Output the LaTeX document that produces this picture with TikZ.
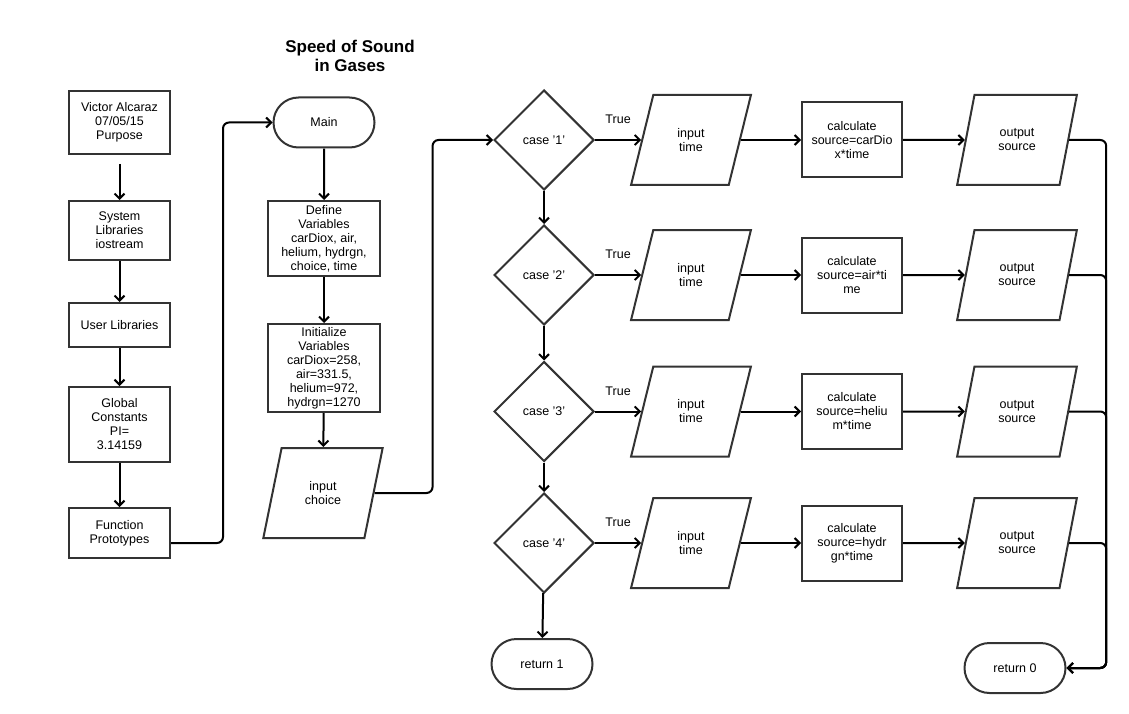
\documentclass[tikz,border=0pt]{standalone}
\usepackage{fontspec}
\setmainfont{Liberation Sans}
\usepackage{tikz}
\usetikzlibrary{shapes.geometric}
\usetikzlibrary{shapes.misc}
\usetikzlibrary{arrows.meta}
\tikzset{>={Straight Barb[length=5pt,width=10pt]}}
\usepackage{xcolor}
\colorlet{boxcol}{black!80}
\tikzstyle{base}=[draw=boxcol,line width=2pt,align=center,inner sep=0pt]
\tikzstyle{proc}=[base,rectangle,minimum width=100,minimum height=75]
\tikzstyle{io}=[base,trapezium,trapezium left angle=71,trapezium right angle=109,
  trapezium stretches=true,minimum width=120,minimum height=90]
\tikzstyle{decis}=[base,diamond,minimum width=100,minimum height=100]
\tikzstyle{term}=[base,rounded rectangle,minimum width=101,minimum height=50]
\tikzstyle{flow}=[->,line width=2pt,black,rounded corners=6pt]

\begin{document}
\begin{tikzpicture}[x=1pt,y=-1pt,font=\fontsize{12.5}{14}\selectfont]
  \useasboundingbox (0,0) rectangle (1129,714);
  \def\lx{119.5}
  \def\mx{324}
  \node[font=\fontsize{17}{19}\selectfont\bfseries,align=center] (title) at (350,55.5)
    {Speed of Sound\\in Gases};

  % header column
  \node[proc,minimum width=101,minimum height=63] (head) at (\lx,122.5) {Victor Alcaraz\\07/05/15\\Purpose};
  \node[proc,minimum width=101,minimum height=59] (syslib) at (\lx,230.5) {System\\Libraries\\iostream};
  \node[proc,minimum width=101,minimum height=44] (usrlib) at (\lx,325) {User Libraries};
  \node[proc,minimum width=101,minimum height=75] (glob) at (\lx,424.5) {Global\\Constants\\PI=\\3.14159};
  \node[proc,minimum width=101,minimum height=50] (proto) at (\lx,533) {Function\\Prototypes};
  \draw[flow,shorten <=9pt] (head) -- (syslib);
  \draw[flow] (syslib) -- (usrlib);
  \draw[flow] (usrlib) -- (glob);
  \draw[flow] (glob) -- (proto);

  % main column
  \node[term] (main) at (\mx,122.5) {Main};
  \node[proc,minimum width=112,minimum height=75] (defvar) at (\mx,238.5)
    {Define\\Variables\\carDiox, air,\\helium, hydrgn,\\choice, time};
  \node[proc,minimum width=112,minimum height=88] (initvar) at (\mx,368)
    {Initialize\\Variables\\carDiox=258,\\air=331.5,\\helium=972,\\hydrgn=1270};
  \node[io] (inchoice) at (323,493) {input\\choice};
  \draw[flow] ([yshift=-10pt]proto.east) -- ++(52,0) |- (main.west);
  \draw[flow] (main) -- (defvar);
  \draw[flow] (defvar) -- (initvar);
  \draw[flow] (initvar) -- (inchoice);

  % cases
  \node[term] (ret1) at (542,664) {return 1};
  \node[term] (ret0) at (1015,668) {return 0};
  \foreach \n/\y/\calc in {1/140/{calculate\\source=carDio\\x*time},
                           2/275/{calculate\\source=air*ti\\me},
                           3/411.5/{calculate\\source=heliu\\m*time},
                           4/543/{calculate\\source=hydr\\gn*time}} {
    \node[decis] (c\n) at (544,\y) {case '\n'};
    \node[io] (in\n) at (691,\y) {input\\time};
    \node[proc] (calc\n) at (852,\y) {\calc};
    \node[io] (out\n) at (1017,\y) {output\\source};
    \draw[flow] (c\n) -- node[above=15pt,inner sep=0pt] {True} (in\n);
    \draw[flow] (in\n) -- (calc\n);
    \draw[flow] (calc\n) -- (out\n);
    \draw[flow] (out\n.east) -- ++(37,0) |- (ret0.east);
  }
  \draw[flow] (inchoice.east) -- ++(58,0) |- (c1.west);
  \foreach \a/\b in {c1/c2,c2/c3,c3/c4,c4/ret1}
    \draw[flow] (\a) -- (\b);
\end{tikzpicture}
\end{document}
